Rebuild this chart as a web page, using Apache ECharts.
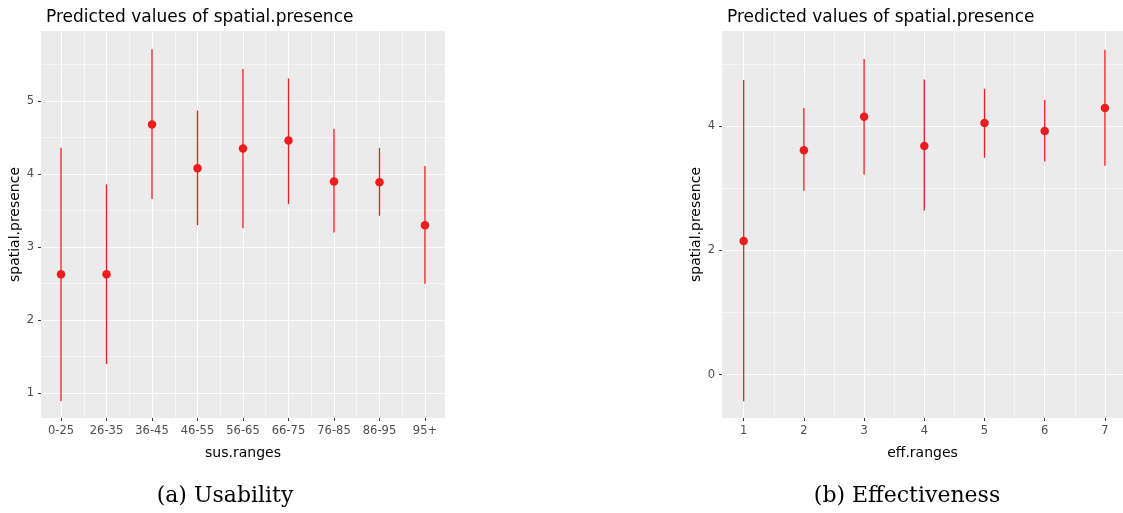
<!DOCTYPE html>
<html>
<head>
<meta charset="utf-8">
<script src="https://cdn.jsdelivr.net/npm/echarts@6/dist/echarts.min.js"></script>
<style>
html,body{margin:0;padding:0;background:#fff;}
#chart{width:1123px;height:513px;}
</style>
</head>
<body>
<div id="chart"></div>
<script>
// ---- data ----
const titleText = 'Predicted values of spatial.presence';
const yName = 'spatial.presence';

const susCategories = ['0-25','26-35','36-45','46-55','56-65','66-75','76-85','86-95','95+'];
const susPredicted  = [2.63, 2.63, 4.68, 4.08, 4.35, 4.46, 3.90, 3.89, 3.30];
const susLower      = [0.89, 1.40, 3.66, 3.30, 3.26, 3.59, 3.20, 3.43, 2.50];
const susUpper      = [4.36, 3.86, 5.71, 4.87, 5.44, 5.31, 4.62, 4.36, 4.11];
const susYTicks     = [1, 2, 3, 4, 5];

const effCategories = ['1','2','3','4','5','6','7'];
const effPredicted  = [2.15, 3.61, 4.15, 3.68, 4.05, 3.92, 4.29];
const effLower      = [-0.43, 2.96, 3.22, 2.64, 3.49, 3.43, 3.36];
const effUpper      = [4.74, 4.29, 5.08, 4.75, 4.60, 4.42, 5.23];
const effYTicks     = [0, 2, 4];

const captionA = '(a) Usability';
const captionB = '(b) Effectiveness';

// ---- styling ----
const RED = '#EE1C1C';
const FONT = '"DejaVu Sans", sans-serif';
const panelBg = '#EBEBEB';

function idx(arr){ return arr.map((_, i) => i); }
function halves(arr){ const r = []; for (let i = 0; i < arr.length - 1; i++) r.push((arr[i] + arr[i+1]) / 2); return r; }
function halvesExt(ticks, min, max){
  const step = ticks[1] - ticks[0];
  const r = [];
  for (let v = ticks[0] - step / 2; v <= max; v += step) if (v >= min) r.push(v);
  return r;
}

function majorX(gridIndex, cats, min, max, name){
  return {
    type: 'value', gridIndex, min, max,
    name, nameLocation: 'middle', nameGap: 28,
    nameTextStyle: { fontFamily: FONT, fontSize: 14, color: '#000' },
    axisLine: { show: false, onZero: false },
    axisTick: { show: true, inside: false, customValues: idx(cats), length: 3, lineStyle: { color: '#333', width: 1 } },
    axisLabel: { customValues: idx(cats), formatter: v => cats[Math.round(v)], margin: 7,
                 fontFamily: FONT, fontSize: 11.5, color: '#4D4D4D' },
    splitLine: { show: true, lineStyle: { color: '#fff', width: 1.1 } }
  };
}
function minorX(gridIndex, cats, min, max){
  const vals = halves(idx(cats));
  return {
    type: 'value', gridIndex, min, max,
    axisLine: { show: false, onZero: false },
    axisTick: { show: false, customValues: vals },
    axisLabel: { show: false, customValues: vals },
    splitLine: { show: true, lineStyle: { color: '#fff', width: 0.6 } }
  };
}
function majorY(gridIndex, ticks, min, max){
  return {
    type: 'value', gridIndex, min, max,
    name: yName, nameLocation: 'middle', nameGap: 18,
    nameTextStyle: { fontFamily: FONT, fontSize: 14, color: '#000' },
    axisLine: { show: false, onZero: false },
    axisTick: { show: true, inside: false, customValues: ticks, length: 3, lineStyle: { color: '#333', width: 1 } },
    axisLabel: { customValues: ticks, margin: 7, fontFamily: FONT, fontSize: 11.5, color: '#4D4D4D' },
    splitLine: { show: true, lineStyle: { color: '#fff', width: 1.1 } }
  };
}
function minorY(gridIndex, ticks, min, max){
  const vals = halvesExt(ticks, min, max);
  return {
    type: 'value', gridIndex, min, max,
    axisLine: { show: false, onZero: false },
    axisTick: { show: false, customValues: vals },
    axisLabel: { show: false, customValues: vals },
    splitLine: { show: true, lineStyle: { color: '#fff', width: 0.6 } }
  };
}

function errorBars(xAxisIndex, yAxisIndex, lower, upper){
  return {
    type: 'custom', xAxisIndex, yAxisIndex, z: 3,
    encode: { x: 0, y: [1, 2] },
    data: lower.map((lo, i) => [i, lo, upper[i]]),
    renderItem: (params, api) => {
      const p1 = api.coord([api.value(0), api.value(1)]);
      const p2 = api.coord([api.value(0), api.value(2)]);
      return { type: 'line', shape: { x1: p1[0], y1: p1[1], x2: p2[0], y2: p2[1] },
               style: { stroke: RED, lineWidth: 1.3 } };
    }
  };
}
function points(xAxisIndex, yAxisIndex, vals){
  return {
    type: 'scatter', xAxisIndex, yAxisIndex, z: 4,
    symbol: 'circle', symbolSize: 8.5,
    itemStyle: { color: RED, opacity: 1 },
    data: vals.map((v, i) => [i, v])
  };
}

const chart = echarts.init(document.getElementById('chart'), null, { renderer: 'canvas' });
chart.setOption({
  animation: false,
  backgroundColor: '#fff',
  title: [
    { text: titleText, left: 41, top: 4, textStyle: { fontFamily: FONT, fontSize: 17, fontWeight: 'normal', color: '#000' } },
    { text: titleText, left: 722, top: 4, textStyle: { fontFamily: FONT, fontSize: 17, fontWeight: 'normal', color: '#000' } }
  ],
  grid: [
    { left: 41, top: 31, width: 404, height: 387, show: true, backgroundColor: panelBg, borderWidth: 0 },
    { left: 722, top: 31, width: 401, height: 387, show: true, backgroundColor: panelBg, borderWidth: 0 }
  ],
  xAxis: [
    majorX(0, susCategories, -0.44, 8.44, 'sus.ranges'),
    minorX(0, susCategories, -0.44, 8.44),
    majorX(1, effCategories, -0.36, 6.30, 'eff.ranges'),
    minorX(1, effCategories, -0.36, 6.30)
  ],
  yAxis: [
    majorY(0, susYTicks, 0.66, 5.96),
    minorY(0, susYTicks, 0.66, 5.96),
    majorY(1, effYTicks, -0.70, 5.53),
    minorY(1, effYTicks, -0.70, 5.53)
  ],
  series: [
    errorBars(0, 0, susLower, susUpper),
    points(0, 0, susPredicted),
    errorBars(2, 2, effLower, effUpper),
    points(2, 2, effPredicted)
  ],
  graphic: [
    { type: 'text', x: 225, y: 496, style: { text: captionA, font: '22px "DejaVu Serif", serif', fill: '#000', textAlign: 'center', textVerticalAlign: 'middle' } },
    { type: 'text', x: 907, y: 496, style: { text: captionB, font: '22px "DejaVu Serif", serif', fill: '#000', textAlign: 'center', textVerticalAlign: 'middle' } }
  ]
});
</script>
</body>
</html>
